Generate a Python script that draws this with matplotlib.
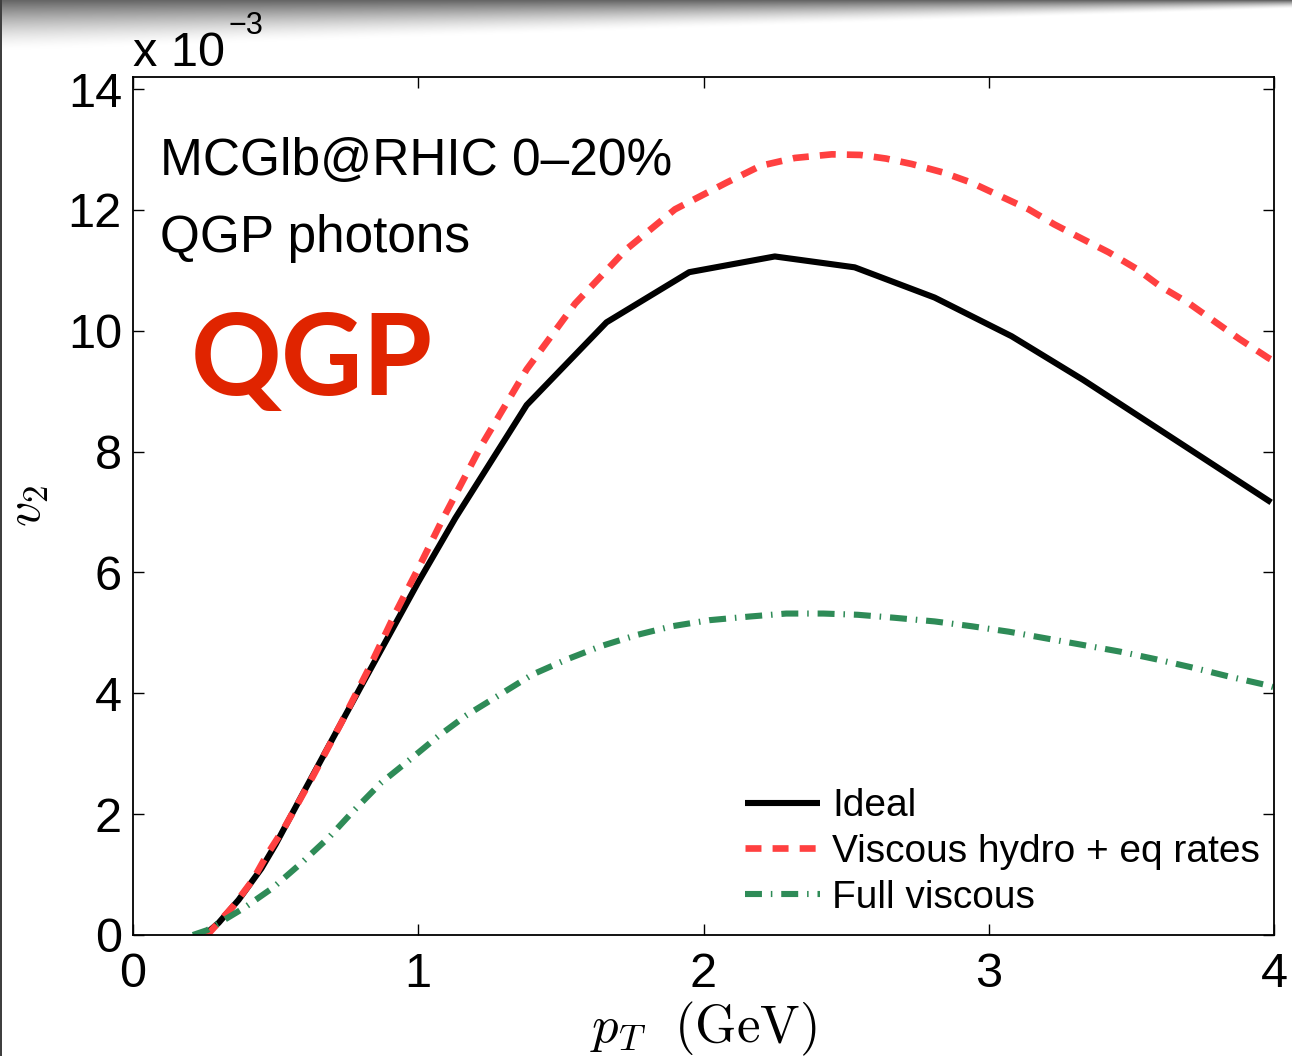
import numpy as np
import matplotlib
matplotlib.use("Agg")
import matplotlib.pyplot as plt

plt.rcParams["font.family"] = ["Liberation Sans", "DejaVu Sans"]
plt.rcParams["mathtext.fontset"] = "cm"
plt.rcParams["lines.scale_dashes"] = False

# Photon elliptic flow v2 (units of 1e-3) vs pT (GeV)
pt_ideal = [0.25, 0.30, 0.37, 0.45, 0.50, 0.60, 0.70, 0.80, 0.90, 1.00, 1.13,
            1.38, 1.66, 1.95, 2.25, 2.53, 2.81, 3.08, 3.33, 3.99]
v2_ideal = [0.00, 0.20, 0.58, 1.10, 1.50, 2.38, 3.25, 4.12, 4.98, 5.84, 6.90,
            8.77, 10.14, 10.97, 11.23, 11.05, 10.55, 9.91, 9.19, 7.16]

pt_visc_eq = [0.25, 0.27, 0.35, 0.42, 0.47, 0.53, 0.63, 0.73, 0.83, 0.92, 1.01,
              1.08, 1.22, 1.38, 1.55, 1.73, 1.90, 2.08, 2.20, 2.32, 2.45, 2.55,
              2.64, 2.73, 2.84, 2.94, 3.04, 3.14, 3.23, 3.32, 3.42, 3.52, 3.60,
              3.70, 3.79, 3.88, 3.98, 4.00]
v2_visc_eq = [0.00, 0.05, 0.47, 0.91, 1.33, 1.77, 2.62, 3.51, 4.44, 5.33, 6.16,
              6.83, 8.09, 9.36, 10.45, 11.35, 12.01, 12.45, 12.73, 12.86, 12.92, 12.91,
              12.85, 12.76, 12.62, 12.45, 12.23, 12.01, 11.76, 11.54, 11.30, 11.02, 10.74,
              10.46, 10.16, 9.86, 9.55, 9.50]

pt_full = [0.21, 0.26, 0.39, 0.49, 0.59, 0.69, 0.77, 0.87, 0.97, 1.07, 1.17,
           1.28, 1.40, 1.52, 1.64, 1.77, 1.89, 2.02, 2.16, 2.29, 2.42, 2.54,
           2.67, 2.81, 2.94, 3.07, 3.20, 3.33, 3.46, 3.59, 3.72, 3.84, 3.97, 4.00]
v2_full = [0.00, 0.08, 0.45, 0.78, 1.19, 1.63, 2.04, 2.52, 2.90, 3.29, 3.64,
           3.96, 4.31, 4.56, 4.78, 4.97, 5.11, 5.21, 5.27, 5.32, 5.32, 5.30,
           5.25, 5.19, 5.11, 5.02, 4.91, 4.80, 4.69, 4.56, 4.42, 4.28, 4.14, 4.10]

series_labels = ["Ideal", "Viscous hydro + eq rates", "Full viscous"]
x_ticks = [0, 1, 2, 3, 4]
y_ticks = [0, 2, 4, 6, 8, 10, 12, 14]

W, H, DPI = 1292, 1056, 100
fig = plt.figure(figsize=(W / DPI, H / DPI), dpi=DPI)

# soft shadow along the top edge and a thin dark rule on the left edge
bg = np.ones((H, W, 3))
rows = np.arange(H)[:, None].astype(float)
cols = np.arange(W)[None, :].astype(float)
depth = 50 - 42 * (cols / W)
shade = np.clip(1 - rows / depth, 0, 1) ** 1.5
bg = bg - 0.6 * shade[:, :, None]
bg[:, 0:2, :] = 0.25
fig.figimage(np.clip(bg, 0, 1), xo=0, yo=0, origin="upper", zorder=-5)

ax = fig.add_axes([133 / W, 1 - 935 / H, (1274 - 133) / W, (935 - 77) / H])

ax.plot(pt_ideal, v2_ideal, color="black", lw=4.4, solid_capstyle="butt",
        label=series_labels[0])
ax.plot(pt_visc_eq, v2_visc_eq, color="#FF4040", lw=4.8, dashes=(11.5, 8),
        dash_capstyle="butt", label=series_labels[1])
ax.plot(pt_full, v2_full, color="#2E8B57", lw=4.4, dashes=(12.2, 6.4, 1.1, 6.4),
        dash_capstyle="butt", label=series_labels[2])

ax.set_xlim(0, 4)
ax.set_ylim(0, 14.2)
ax.set_xticks(x_ticks)
ax.set_yticks(y_ticks)
ax.set_xticklabels([str(t) for t in x_ticks])
ax.set_yticklabels([str(t) for t in y_ticks])
ax.tick_params(direction="in", length=8, width=1.0, labelsize=35,
               top=True, right=True)
ax.tick_params(axis="x", pad=12)
ax.tick_params(axis="y", pad=8)
for s in ax.spines.values():
    s.set_linewidth(1.3)

ax.set_xlabel(r"$p_T\ \ (\mathrm{GeV})$", fontsize=38, labelpad=2)
ax.set_ylabel(r"$v_2$", fontsize=36, labelpad=12)

# scale factor above the y axis
ax.text(0.0, 1.0 + 11 / 858, "x 10", transform=ax.transAxes, fontsize=35,
        ha="left", va="baseline")
ax.text(0.084, 1.0 + 43 / 858, "\u22123", transform=ax.transAxes, fontsize=22,
        ha="left", va="baseline")

ax.text(0.0237, 0.886, "MCGlb@RHIC 0\u201320%", transform=ax.transAxes,
        fontsize=37, ha="left", va="baseline")
ax.text(0.0237, 0.796, "QGP photons", transform=ax.transAxes,
        fontsize=37, ha="left", va="baseline")
ax.text(0.051, 0.629, "QGP", transform=ax.transAxes, fontsize=81,
        fontweight="bold", color="#E02400", family=["Lato", "DejaVu Sans"],
        ha="left", va="baseline")

leg = ax.legend(loc="upper left", bbox_to_anchor=(0.536, 0.171), frameon=False,
                fontsize=28, handlelength=1.95, handletextpad=0.3,
                labelspacing=0.25, borderpad=0, borderaxespad=0)

fig.savefig("out.png", dpi=DPI)
